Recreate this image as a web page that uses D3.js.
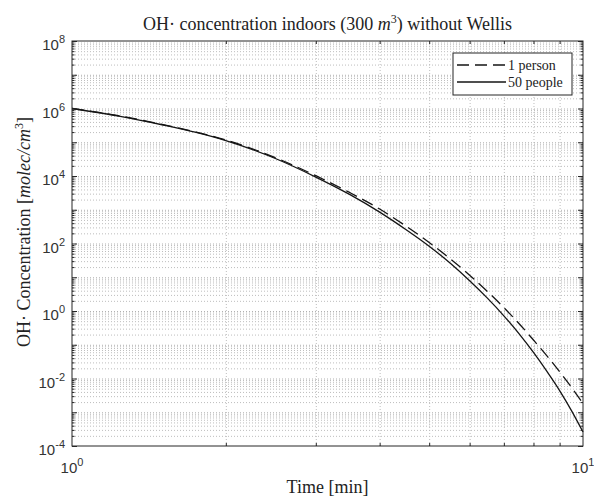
<!DOCTYPE html>
<html>
<head>
<meta charset="utf-8">
<script src="https://cdn.jsdelivr.net/npm/d3@7"></script>
<style>
  html, body { margin: 0; padding: 0; background: #fff; }
  svg { display: block; }
</style>
</head>
<body>
<div id="chart"></div>
<script>
// ---- data ----
const timeMin = [1, 1.25, 1.5, 1.75, 2, 2.5, 3, 3.5, 4, 4.5, 5, 5.5, 6, 6.5, 7, 7.5, 8, 8.5, 9, 9.5, 10];
// 1 person (dashed), OH concentration in molec/cm^3
const onePerson = [1.0e6, 5.9e5, 3.4e5, 2.0e5, 1.17e5, 3.5e4, 1.02e4, 3.2e3, 1.05e3, 3.3e2, 1.07e2, 3.5e1, 1.15e1, 3.8, 1.26, 4.2e-1, 1.38e-1, 4.7e-2, 1.58e-2, 5.4e-3, 1.82e-3];
// 50 people (solid)
const fiftyPeople = [1.0e6, 5.75e5, 3.3e5, 1.95e5, 1.12e5, 3.3e4, 9.3e3, 2.8e3, 8.5e2, 2.6e2, 8.3e1, 2.6e1, 7.9, 2.4, 7.2e-1, 2.1e-1, 5.9e-2, 1.62e-2, 4.4e-3, 1.1e-3, 2.6e-4];
const seriesNames = ["1 person", "50 people"];
const xTickValues = [1, 10];
const xTickExps = ["0", "1"];
const yTickValues = [1e-4, 1e-2, 1, 1e2, 1e4, 1e6, 1e8];
const yTickExps = ["-4", "-2", "0", "2", "4", "6", "8"];

// ---- layout ----
const W = 594, H = 496;
const pL = 72, pR = 583, pT = 41, pB = 446;

const svg = d3.select("#chart").append("svg").attr("width", W).attr("height", H);

const x = d3.scaleLog().domain([1, 10]).range([pL, pR]);
const y = d3.scaleLog().domain([1e-4, 1e8]).range([pB, pT]);

// minor values
const xMinor = d3.range(2, 10);
const yMinor = [];
for (let e = -4; e < 8; e++) for (let k = 2; k <= 9; k++) yMinor.push(k * Math.pow(10, e));
const yMajorAll = d3.range(-4, 9).map(e => Math.pow(10, e));

const gridColor = "#bdbdbd";
// grid - minor
svg.append("g").attr("transform", `translate(0,${pB})`)
  .call(d3.axisBottom(x).tickValues(xMinor).tickSize(-(pB - pT)).tickFormat(""))
  .call(g => g.select(".domain").remove())
  .call(g => g.selectAll("line").attr("stroke", gridColor).attr("stroke-dasharray", "1,2"));
svg.append("g").attr("transform", `translate(${pL},0)`)
  .call(d3.axisLeft(y).tickValues(yMinor).tickSize(-(pR - pL)).tickFormat(""))
  .call(g => g.select(".domain").remove())
  .call(g => g.selectAll("line").attr("stroke", gridColor).attr("stroke-dasharray", "1,2"));
// grid - major
svg.append("g").attr("transform", `translate(${pL},0)`)
  .call(d3.axisLeft(y).tickValues(yMajorAll.slice(1, -1)).tickSize(-(pR - pL)).tickFormat(""))
  .call(g => g.select(".domain").remove())
  .call(g => g.selectAll("line").attr("stroke", "#b0b0b0").attr("stroke-dasharray", "1,2"));

// ---- curves ----
const line = d3.line().x(d => x(d[0])).y(d => y(d[1])).curve(d3.curveMonotoneX);
svg.append("path")
  .datum(timeMin.map((t, i) => [t, onePerson[i]]))
  .attr("d", line).attr("fill", "none").attr("stroke", "#151515")
  .attr("stroke-width", 1.3).attr("stroke-dasharray", "12,6");
svg.append("path")
  .datum(timeMin.map((t, i) => [t, fiftyPeople[i]]))
  .attr("d", line).attr("fill", "none").attr("stroke", "#151515")
  .attr("stroke-width", 1.3);

// ---- ticks (inward on all four sides) ----
const axisColor = "#262626";
function styleTicks(g) {
  g.select(".domain").remove();
  g.selectAll("line").attr("stroke", axisColor);
}
svg.append("g").attr("transform", `translate(0,${pB})`)
  .call(d3.axisBottom(x).tickValues(xMinor).tickSize(-3).tickFormat("")).call(styleTicks);
svg.append("g").attr("transform", `translate(0,${pT})`)
  .call(d3.axisTop(x).tickValues(xMinor).tickSize(-3).tickFormat("")).call(styleTicks);
svg.append("g").attr("transform", `translate(${pL},0)`)
  .call(d3.axisLeft(y).tickValues(yMinor).tickSize(-2.5).tickFormat("")).call(styleTicks);
svg.append("g").attr("transform", `translate(${pR},0)`)
  .call(d3.axisRight(y).tickValues(yMinor).tickSize(-2.5).tickFormat("")).call(styleTicks);
svg.append("g").attr("transform", `translate(${pL},0)`)
  .call(d3.axisLeft(y).tickValues(yMajorAll).tickSize(-5).tickFormat("")).call(styleTicks);
svg.append("g").attr("transform", `translate(${pR},0)`)
  .call(d3.axisRight(y).tickValues(yMajorAll).tickSize(-5).tickFormat("")).call(styleTicks);

// frame
svg.append("rect").attr("x", pL).attr("y", pT).attr("width", pR - pL).attr("height", pB - pT)
  .attr("fill", "none").attr("stroke", axisColor).attr("stroke-width", 1);

// ---- tick labels ----
const tickFont = "'Liberation Sans', Arial, sans-serif";
const xl = svg.append("g");
xTickValues.forEach((v, i) => {
  const t = xl.append("text").attr("x", x(v)).attr("y", pB + 27)
    .attr("text-anchor", "middle").attr("font-family", tickFont).attr("font-size", 15).attr("fill", "#333");
  t.append("tspan").text("10");
  t.append("tspan").attr("dy", -7).attr("font-size", 11).text(xTickExps[i]);
});
const yl = svg.append("g");
yTickValues.forEach((v, i) => {
  const t = yl.append("text").attr("x", pL - 7).attr("y", y(v) + 9)
    .attr("text-anchor", "end").attr("font-family", tickFont).attr("font-size", 15).attr("fill", "#333");
  t.append("tspan").text("10");
  t.append("tspan").attr("dy", -7).attr("font-size", 11).text(yTickExps[i]);
});

// ---- titles ----
const serif = "'Liberation Serif', 'DejaVu Serif', serif";
const title = svg.append("text").attr("x", (pL + pR) / 2).attr("y", 30)
  .attr("text-anchor", "middle").attr("font-family", serif).attr("font-size", 18).attr("fill", "#222");
title.append("tspan").text("OH\u00B7 concentration indoors (300 ");
title.append("tspan").attr("font-style", "italic").text("m");
title.append("tspan").attr("dy", -7).attr("font-size", 12).text("3");
title.append("tspan").attr("dy", 7).text(") without Wellis");

svg.append("text").attr("x", (pL + pR) / 2).attr("y", 493)
  .attr("text-anchor", "middle").attr("font-family", serif).attr("font-size", 18).attr("fill", "#222")
  .text("Time [min]");

const yLab = svg.append("text").attr("transform", `translate(30,232) rotate(-90)`)
  .attr("text-anchor", "middle").attr("font-family", serif).attr("font-size", 18).attr("fill", "#222");
yLab.append("tspan").text("OH\u00B7 Concentration [");
yLab.append("tspan").attr("font-style", "italic").text("molec/cm");
yLab.append("tspan").attr("dy", -7).attr("font-size", 12).text("3");
yLab.append("tspan").attr("dy", 7).text("]");

// ---- legend ----
const lg = svg.append("g");
const lx = 453, ly = 53, lw = 119, lh = 42;
lg.append("rect").attr("x", lx).attr("y", ly).attr("width", lw).attr("height", lh)
  .attr("fill", "#fff").attr("stroke", axisColor).attr("stroke-width", 1);
seriesNames.forEach((name, i) => {
  const cy = ly + 12 + i * 17;
  lg.append("line").attr("x1", lx + 4).attr("x2", lx + 53).attr("y1", cy).attr("y2", cy)
    .attr("stroke", "#151515").attr("stroke-width", 1.3)
    .attr("stroke-dasharray", i === 0 ? "12,6" : null);
  lg.append("text").attr("x", lx + 55).attr("y", cy + 4.5)
    .attr("font-family", serif).attr("font-size", 14).attr("fill", "#222").text(name);
});
</script>
</body>
</html>
